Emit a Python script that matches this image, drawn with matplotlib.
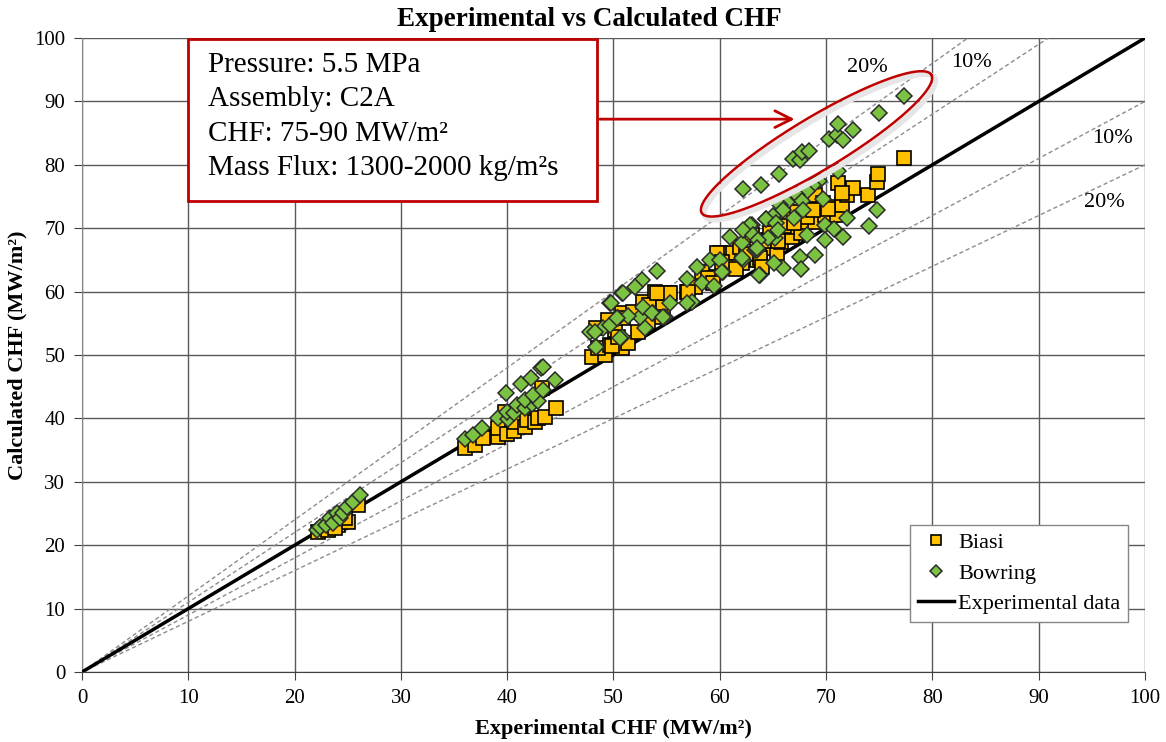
import numpy as np
import matplotlib
matplotlib.use("Agg")
import matplotlib.pyplot as plt

plt.rcParams['font.family'] = ['Liberation Serif', 'DejaVu Serif']

# Biasi correlation (calculated vs experimental CHF, MW/m2)
biasi_x = [22.2, 23.1, 24.1, 25.0, 26.0, 24.7, 23.8,
           36.0, 37.0, 37.7, 39.1, 39.1, 40.0, 40.6, 40.7, 41.7, 41.9, 42.6, 42.9, 43.6, 44.6, 39.8, 43.3,
           48.0, 49.2, 48.5, 49.7, 50.3, 50.8, 48.4, 49.5, 50.8, 50.1,
           49.9, 50.4, 51.4, 50.9, 51.8, 52.8, 53.9, 55.2, 53.3, 54.7, 54.4, 52.3, 53.2, 56.9,
           55.3, 54.1, 57.7, 57.0, 58.8, 59.3,
           58.3, 58.9, 59.4, 60.0, 61.2, 62.1, 63.8, 63.5, 63.0, 64.5, 64.7, 59.7, 60.2, 61.0, 61.9, 63.5,
           65.0, 63.8, 64.0, 65.4, 65.8, 66.8, 67.6, 68.0, 69.0, 69.9, 66.6, 67.3, 66.3, 68.2,
           68.5, 69.1, 69.0, 69.7, 70.7, 71.0, 71.5, 71.1, 72.0, 72.5, 73.9, 74.8, 74.9, 71.5, 77.3,
           62.5, 64.2, 66.0, 67.0, 68.8, 70.2, 61.5, 65.5]
biasi_y = [22.1, 22.4, 23.2, 23.7, 26.3, 24.3, 22.7,
           35.3, 35.8, 36.9, 37.1, 38.5, 37.5, 38.0, 39.4, 38.6, 39.7, 39.4, 40.1, 40.2, 41.6, 41.0, 44.8,
           49.7, 50.0, 51.1, 51.6, 52.4, 51.1, 54.3, 55.5, 56.6, 53.9,
           51.4, 52.8, 51.9, 55.8, 56.8, 58.4, 59.9, 59.8, 57.9, 57.6, 56.0, 53.6, 55.2, 59.9,
           59.8, 59.8, 60.7, 59.9, 62.1, 62.3,
           63.1, 62.1, 61.4, 66.1, 66.1, 64.5, 65.0, 68.1, 68.9, 67.0, 69.2, 66.1, 64.7, 63.9, 67.0, 65.0,
           66.9, 65.3, 63.9, 66.1, 67.8, 68.6, 69.2, 71.0, 71.0, 72.1, 71.6, 72.6, 70.2, 71.8,
           73.7, 74.4, 75.2, 74.0, 73.3, 72.1, 73.7, 77.1, 75.2, 76.3, 75.2, 77.3, 78.6, 75.6, 81.0,
           66.0, 68.0, 70.4, 70.8, 72.8, 73.0, 63.6, 68.0]

# Bowring correlation
bowring_x = [22.1, 22.4, 23.0, 23.3, 23.6, 24.0, 24.3, 24.6, 24.9, 25.5, 26.2,
             36.0, 36.8, 37.6, 39.1, 40.1, 40.0, 40.6, 40.9, 41.7, 42.3, 41.7, 42.9, 42.4, 43.4,
             39.9, 41.3, 42.2, 43.2, 43.4, 44.5, 48.4,
             47.8, 49.0, 49.7, 50.4, 50.8, 48.4, 49.7, 50.8, 49.8,
             48.3, 50.6, 53.0, 52.5, 51.4, 50.3, 53.7, 54.8, 55.3, 52.8, 53.6, 54.7, 57.4,
             54.1, 52.7, 52.0, 50.9, 56.9, 57.9, 58.3, 59.5, 59.1, 61.0, 62.1, 62.6, 63.0, 63.3,
             62.2, 60.3, 60.0, 60.2, 56.9, 63.5, 64.3, 65.0, 65.2, 63.8,
             62.2, 63.9, 65.6, 66.9, 67.5, 67.7, 68.4, 70.3, 71.0, 71.6, 71.1, 72.5, 75.0, 77.3, 71.1,
             69.3, 68.8, 68.2, 67.3, 67.7, 66.3, 65.7, 65.9, 65.0, 64.3, 65.3, 69.7, 67.8, 67.0,
             68.2, 62.8, 62.2, 63.1, 64.5, 65.5, 63.6, 63.5, 62.1, 69.9,
             74.8, 74.0, 72.0, 71.6, 69.9, 70.7, 69.0, 67.5, 67.6, 65.9, 63.7, 65.1]
bowring_y = [22.4, 22.9, 23.2, 24.3, 23.5, 25.1, 24.3, 25.1, 26.0, 26.8, 27.9,
             36.8, 37.4, 38.5, 40.1, 39.9, 41.0, 40.8, 42.1, 41.6, 42.3, 42.9, 42.7, 43.7, 44.5,
             44.0, 45.4, 46.4, 47.9, 48.1, 46.0, 51.3,
             53.6, 54.3, 54.7, 55.8, 52.8, 51.3, 58.2, 59.8, 58.2,
             53.6, 52.7, 54.3, 56.0, 56.1, 55.8, 56.6, 56.0, 58.2, 57.6, 56.6, 56.0, 58.4,
             63.2, 61.8, 60.8, 59.8, 62.0, 63.9, 61.4, 60.9, 65.0, 68.6, 67.7, 70.0, 70.5, 66.6,
             65.0, 63.1, 65.0, 63.1, 58.2, 66.6, 71.5, 71.8, 68.5, 62.6,
             76.2, 76.8, 78.5, 80.9, 80.8, 82.0, 82.2, 84.1, 84.7, 83.9, 86.4, 85.5, 88.2, 90.8, 79.0,
             77.4, 76.8, 75.9, 75.2, 74.3, 74.1, 73.7, 72.9, 71.9, 71.5, 70.8, 74.6, 72.9, 71.6,
             68.9, 70.5, 69.7, 68.9, 68.5, 69.7, 68.1, 66.9, 65.3, 70.5,
             72.9, 70.3, 71.6, 68.6, 68.1, 69.9, 65.8, 65.5, 63.6, 63.7, 62.6, 64.5]

band_factors = [1.2, 1.1, 0.9, 0.8]
band_labels = ['20%', '10%', '10%', '20%']

fig = plt.figure(figsize=(11.66, 7.42), dpi=100)
ax = fig.add_axes([0.0703, 0.0943, 0.9117, 0.8545])

ax.set_xlim(0, 100)
ax.set_ylim(0, 100)
ax.set_xticks(np.arange(0, 101, 10))
ax.set_yticks(np.arange(0, 101, 10))
ax.grid(True, color='#595959', lw=1)
ax.set_axisbelow(True)
for s in ['top', 'right']:
    ax.spines[s].set_visible(False)
ax.spines['left'].set_color('#868686')
ax.spines['bottom'].set_color('#404040')
ax.tick_params(direction='out', length=6, labelsize=15, color='#404040', pad=6)

# +/- bands
for f in band_factors:
    xe = min(100, 100 / f)
    ax.plot([0, xe], [0, f * xe], ls=(0, (3, 2)), color='#8c8c8c', lw=1, zorder=2)
ax.text(73.9, 95.3, band_labels[0], fontsize=16, ha='center', va='center')
ax.text(83.7, 96.2, band_labels[1], fontsize=16, ha='center', va='center')
ax.text(96.9, 84.2, band_labels[2], fontsize=16, ha='center', va='center')
ax.text(96.2, 74.0, band_labels[3], fontsize=16, ha='center', va='center')

ax.plot([0, 100], [0, 100], color='black', lw=2.5, zorder=3, label='Experimental data')
ax.plot(biasi_x, biasi_y, 's', ms=10, mfc='#FFC000', mec='black', mew=1.2, zorder=4, label='Biasi')
ax.plot(bowring_x, bowring_y, 'D', ms=8, mfc='#7CC242', mec='#2a2a2a', mew=1.1, zorder=5, label='Bowring')

# ellipse around the high Bowring points
t = np.linspace(0, 2 * np.pi, 200)
cx, cy = 69.1, 83.3
ex = cx + 10.8 * np.cos(t) + 1.3 * np.sin(t)
ey = cy + 10.9 * np.cos(t) - 3.55 * np.sin(t)
ax.plot(ex + 0.3, ey - 0.5, color='#e6e6e6', lw=4, zorder=5)
ax.plot(ex, ey, color='#C00000', lw=1.8, zorder=6)

# callout box
box = plt.Rectangle((9.95, 74.3), 38.5, 25.5, fc='white', ec='#C00000', lw=2, zorder=8)
ax.add_patch(box)
info_lines = ['Pressure: 5.5 MPa', 'Assembly: C2A', 'CHF: 75-90 MW/m²', 'Mass Flux: 1300-2000 kg/m²s']
for i, line in enumerate(info_lines):
    ax.text(11.9, 95.7 - i * 5.4, line, fontsize=21, ha='left', va='center', zorder=9)
ax.annotate('', xy=(67.3, 87.2), xytext=(48.45, 87.2),
            arrowprops=dict(arrowstyle='->', color='#C00000', lw=2, mutation_scale=30), zorder=7)

handles, labels = ax.get_legend_handles_labels()
order = [1, 2, 0]
leg = ax.legend([handles[i] for i in order], [labels[i] for i in order],
                loc='lower right', bbox_to_anchor=(0.984, 0.079), borderaxespad=0, fontsize=16,
                fancybox=False, framealpha=1, edgecolor='#868686', borderpad=0.35,
                handlelength=1.6, handletextpad=0.2, labelspacing=0.45, markerscale=0.75)

fig.suptitle('Experimental vs Calculated CHF', x=0.505, y=0.99, fontsize=19.5, fontweight='bold')
ax.set_xlabel('Experimental CHF (MW/m²)', fontsize=16, fontweight='bold', labelpad=8)
ax.set_ylabel('Calculated CHF (MW/m²)', fontsize=16, fontweight='bold', labelpad=5)

fig.savefig('out.png', dpi=100)
